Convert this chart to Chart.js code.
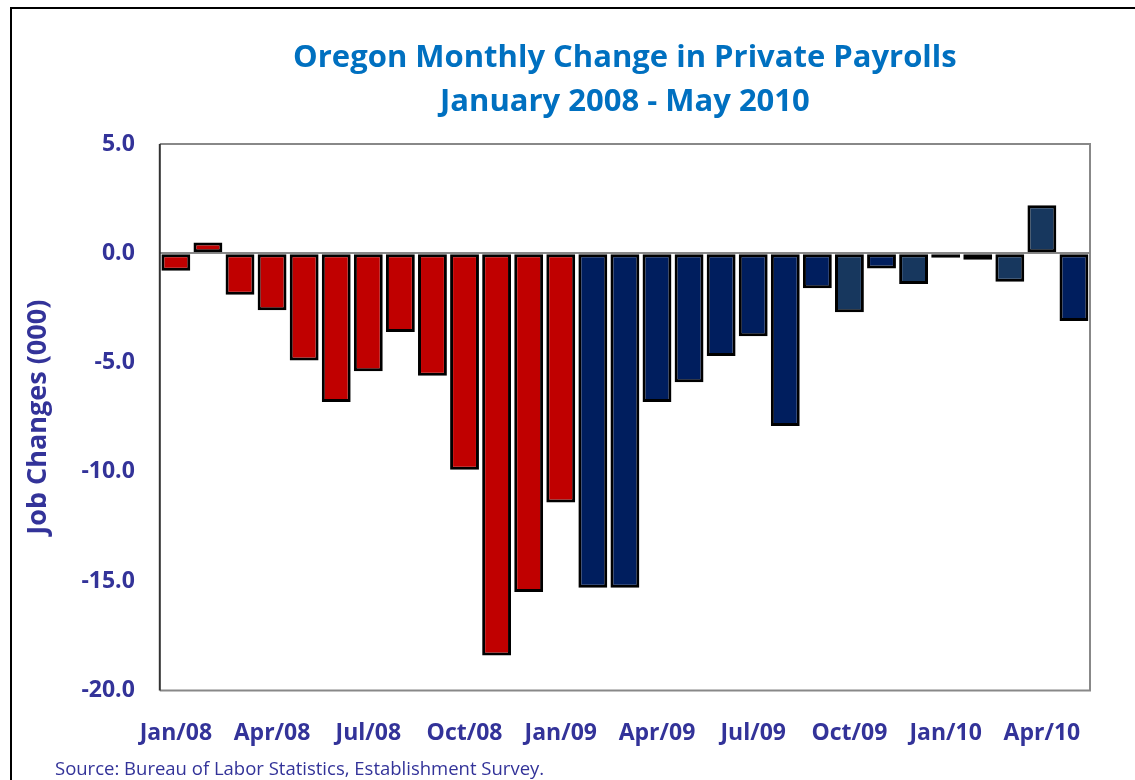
<!DOCTYPE html>
<html>
<head>
<meta charset="utf-8">
<script src="https://cdn.jsdelivr.net/npm/chart.js@4.4.1/dist/chart.umd.min.js"></script>
<style>
  html, body { margin: 0; padding: 0; background: #fff; overflow: hidden; }
  #wrap { position: relative; width: 1135px; height: 780px; }
  #frame { position: absolute; left: 10px; top: 7px; width: 1200px; height: 820px; border: 2px solid #000; box-sizing: border-box; }
  #c { position: absolute; left: 0; top: 0; }
  #source { position: absolute; left: 55px; top: 755px; font: 18.5px "Open Sans", sans-serif; color: #333399; }
</style>
</head>
<body>
<div id="wrap">
  <div id="frame"></div>
  <canvas id="c" width="1135" height="780"></canvas>
  <div id="source">Source: Bureau of Labor Statistics, Establishment Survey.</div>
</div>
<script>
// hónapok és a havi változás (ezer fő)
const months = [
  'Jan/08','Feb/08','Mar/08','Apr/08','May/08','Jun/08','Jul/08','Aug/08','Sep/08','Oct/08','Nov/08','Dec/08',
  'Jan/09','Feb/09','Mar/09','Apr/09','May/09','Jun/09','Jul/09','Aug/09','Sep/09','Oct/09','Nov/09','Dec/09',
  'Jan/10','Feb/10','Mar/10','Apr/10','May/10'
];
const jobChanges = [
  -0.8, 0.5, -1.9, -2.6, -4.9, -6.8, -5.4, -3.6, -5.6, -9.9, -18.4, -15.5,
  -11.4, -15.3, -15.3, -6.8, -5.9, -4.7, -3.8, -7.9, -1.6, -2.7, -0.7, -1.4,
  -0.2, -0.3, -1.3, 2.2, -3.1
];
const yTicks = [5, 0, -5, -10, -15, -20];

// színek havonta
const RED = '#C00000', NAVY = '#001E5E', SLATE = '#17375E';
const barColors = months.map((m, i) => {
  if (i <= 12) return RED;
  if ([21, 23, 24, 25, 26, 27].includes(i)) return SLATE;
  return NAVY;
});

const tickColor = '#333399';
const font = 'Open Sans';

// szürke keret a rajzterület körül
const areaBorder = {
  id: 'areaBorder',
  afterDraw(chart) {
    const { ctx, chartArea: a } = chart;
    ctx.save();
    ctx.strokeStyle = '#888';
    ctx.lineWidth = 2;
    ctx.beginPath();
    ctx.moveTo(a.left, a.top);
    ctx.lineTo(a.right, a.top);
    ctx.lineTo(a.right, a.bottom);
    ctx.lineTo(a.left, a.bottom);
    ctx.stroke();
    ctx.strokeStyle = '#333';
    ctx.beginPath();
    ctx.moveTo(a.left, a.top);
    ctx.lineTo(a.left, a.bottom);
    ctx.stroke();
    ctx.restore();
  }
};

new Chart(document.getElementById('c'), {
  type: 'bar',
  data: {
    labels: months,
    datasets: [{
      data: jobChanges,
      backgroundColor: barColors,
      borderColor: '#000',
      borderWidth: 3,
      borderSkipped: false,
      categoryPercentage: 1,
      barPercentage: 0.9
    }]
  },
  options: {
    responsive: false,
    animation: false,
    layout: { padding: { left: 20, right: 45, top: 20, bottom: 12 } },
    plugins: {
      legend: { display: false },
      tooltip: { enabled: false },
      title: {
        display: true,
        fullSize: false,
        text: ['Oregon Monthly Change in Private Payrolls', 'January 2008 - May 2010'],
        color: '#0070C0',
        font: { family: font, size: 31, weight: 'bold', lineHeight: 1.42 },
        padding: { top: 16, bottom: 20 }
      }
    },
    scales: {
      x: {
        grid: { display: false },
        border: { display: false },
        ticks: {
          autoSkip: false,
          maxRotation: 0,
          padding: 21,
          color: tickColor,
          font: { family: font, size: 23, weight: 'bold' },
          callback: (v, i) => (i % 3 === 0 ? months[i] : '')
        }
      },
      y: {
        min: -20,
        max: 5,
        afterBuildTicks: s => { s.ticks = yTicks.map(v => ({ value: v })); },
        grid: {
          drawTicks: false,
          color: c => (c.tick && c.tick.value === 0 ? '#888' : 'rgba(0,0,0,0)'),
          lineWidth: 2
        },
        border: { display: false },
        ticks: {
          padding: 25,
          color: tickColor,
          font: { family: font, size: 23, weight: 'bold' },
          callback: v => v.toFixed(1)
        },
        title: {
          display: true,
          text: 'Job Changes (000)',
          color: tickColor,
          font: { family: font, size: 27, weight: 'bold' },
          padding: { top: 2, bottom: 2 }
        }
      }
    }
  },
  plugins: [areaBorder]
});
</script>
</body>
</html>
